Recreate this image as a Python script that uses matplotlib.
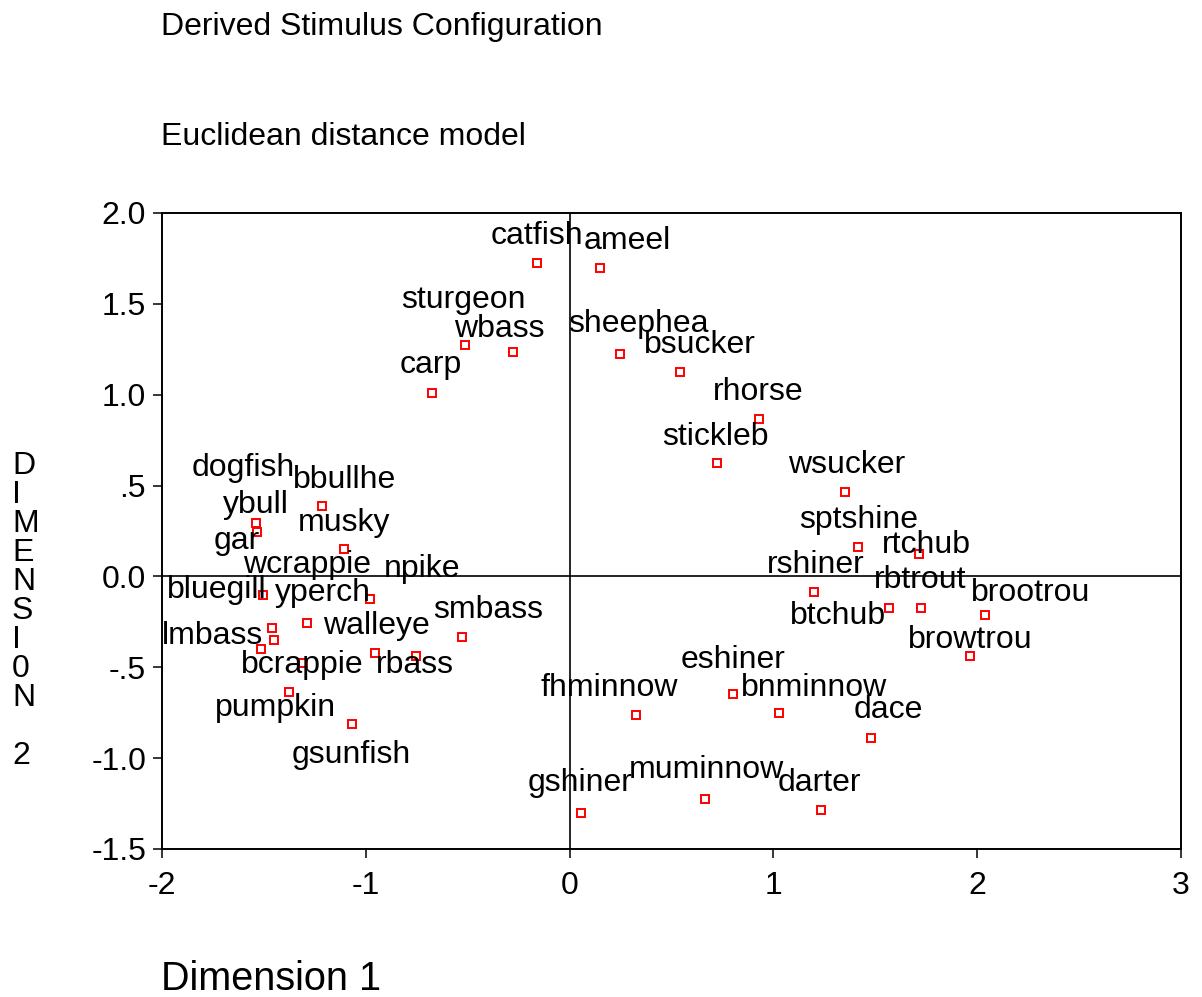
import matplotlib
matplotlib.use("Agg")
import matplotlib.pyplot as plt

# ── data: derived stimulus coordinates (dimension 1, dimension 2) ─────────────
names = [
    "catfish", "ameel", "sturgeon", "wbass", "carp", "sheephea", "bsucker",
    "rhorse", "stickleb", "wsucker", "sptshine", "rtchub", "rshiner", "btchub",
    "rbtrout", "brootrou", "browtrou", "eshiner", "fhminnow", "bnminnow",
    "dace", "gshiner", "muminnow", "darter", "bbullhe", "dogfish", "ybull",
    "musky", "bluegill", "npike", "yperch", "wcrappie", "gar", "lmbass",
    "bcrappie", "walleye", "rbass", "smbass", "pumpkin", "gsunfish",
]
dim1 = [
    -0.162, 0.147, -0.515, -0.279, -0.676, 0.245, 0.544,
    0.931, 0.721, 1.353, 1.417, 1.716, 1.201, 1.569,
    1.725, 2.039, 1.966, 0.804, 0.328, 1.029,
    1.480, 0.054, 0.662, 1.235, -1.216, -1.539, -1.534,
    -1.108, -1.505, -0.980, -1.289, -1.461, -1.451, -1.515,
    -1.309, -0.956, -0.755, -0.529, -1.377, -1.069,
]
dim2 = [
    1.725, 1.698, 1.274, 1.235, 1.010, 1.225, 1.125,
    0.867, 0.625, 0.465, 0.162, 0.124, -0.085, -0.173,
    -0.173, -0.212, -0.438, -0.647, -0.762, -0.751,
    -0.889, -1.302, -1.224, -1.285, 0.388, 0.294, 0.245,
    0.151, -0.102, -0.124, -0.256, -0.283, -0.349, -0.399,
    -0.476, -0.421, -0.438, -0.333, -0.636, -0.812,
]

# label placement (pixels from the point, right / up)
label_dx = [
    0, 28, -1, -13, -1, 19, 19,
    -1, -1, 1, 0, 7, 1, -51,
    -1, 46, 0, 0, -27, 35,
    17, -1, 2, -2, 23, -13, -1,
    0, -46, 52, 16, 35, -37, -48,
    -1, 2, -1, 26, -13, 0,
]
label_dy = [
    27, 27, 45, 23, 28, 30, 27,
    27, 26, 27, 27, 9, 27, -8,
    28, 22, 16, 34, 27, 25,
    28, 30, 29, 27, 26, 55, 27,
    26, 5, 30, 30, 63, 99, 13,
    -2, 27, -9, 27, -16, -31,
]

XTICKS = [-2, -1, 0, 1, 2, 3]
YTICKS = [2.0, 1.5, 1.0, 0.5, 0.0, -0.5, -1.0, -1.5]
YTICKLABELS = ["2.0", "1.5", "1.0", ".5", "0.0", "-.5", "-1.0", "-1.5"]

plt.rcParams["font.family"] = ["Liberation Sans", "DejaVu Sans"]
FS = 23

W, H = 1202, 997
fig = plt.figure(figsize=(W / 100, H / 100), dpi=100)
ax = fig.add_axes([162 / W, 1 - 849 / H, (1181 - 162) / W, (849 - 213) / H])

ax.axhline(0, color="black", lw=1.2, zorder=1)
ax.axvline(0, color="black", lw=1.2, zorder=1)

ax.plot(dim1, dim2, "s", ls="none", ms=6.3, mew=1.4, mec="red", mfc="white",
        zorder=2)

for name, x, y, dx, dy in zip(names, dim1, dim2, label_dx, label_dy):
    ax.annotate(name, (x, y), xytext=(dx, dy), textcoords="offset pixels",
                ha="center", va="center", fontsize=FS, zorder=3)

ax.set_xlim(-2, 3)
ax.set_ylim(-1.5, 2.0)
ax.set_xticks(XTICKS)
ax.set_xticklabels([str(t) for t in XTICKS])
ax.set_yticks(YTICKS)
ax.set_yticklabels(YTICKLABELS)
ax.tick_params(direction="out", length=6.5, width=1.1, labelsize=FS)
ax.tick_params(axis="y", pad=5)
ax.tick_params(axis="x", pad=9.5)
for s in ax.spines.values():
    s.set_linewidth(1.4)

fig.text(161 / W, 1 - 35 / H, "Derived Stimulus Configuration",
         fontsize=FS, ha="left", va="baseline")
fig.text(161 / W, 1 - 145 / H, "Euclidean distance model",
         fontsize=FS, ha="left", va="baseline")
fig.text(161 / W, 1 - 990 / H, "Dimension 1",
         fontsize=28.5, ha="left", va="baseline")

for i, ch in enumerate("DIMENSI0N 2"):
    fig.text(12 / W, 1 - (466 + 29 * i) / H, ch, fontsize=FS,
             ha="left", va="center")

fig.savefig("out.png", dpi=100)
